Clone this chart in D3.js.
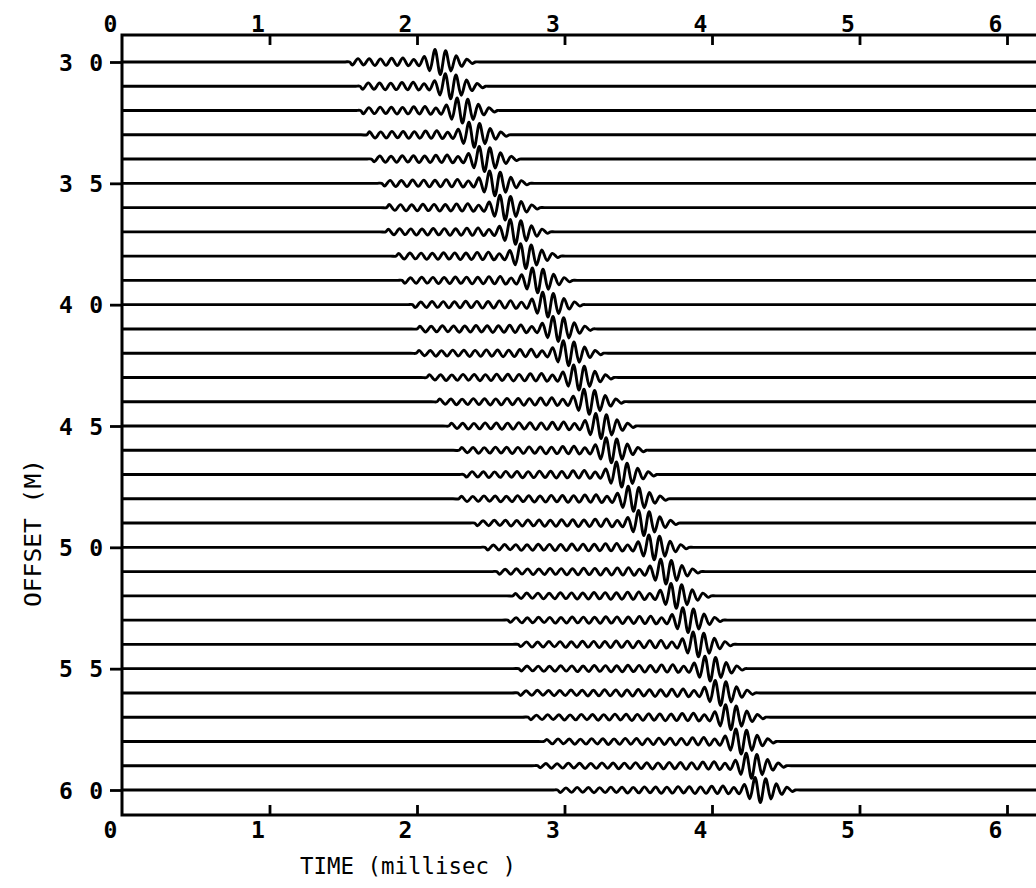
<!DOCTYPE html>
<html>
<head>
<meta charset="utf-8">
<script src="https://cdn.jsdelivr.net/npm/d3@7"></script>
<style>
  html, body { margin: 0; padding: 0; background: #fff; }
  svg { display: block; }
</style>
</head>
<body>
<svg id="chart" width="1036" height="888"></svg>
<script>
// ---- data ----
const offsets = [30,31,32,33,34,35,36,37,38,39,40,41,42,43,44,45,46,47,48,49,50,51,52,53,54,55,56,57,58,59,60];
// centre time (ms) of the main wavelet on each trace
const arrivalTimes = [2.14,2.21,2.29,2.37,2.44,2.51,2.58,2.65,2.72,2.80,2.87,2.94,3.01,3.08,3.15,3.23,3.30,3.37,3.45,3.52,3.59,3.67,3.74,3.82,3.89,3.97,4.04,4.11,4.18,4.25,4.31];
// time (ms) where the small precursor wiggles start on each trace
const precursorStart = [1.51,1.58,1.58,1.63,1.65,1.74,1.75,1.74,1.82,1.85,1.92,1.95,1.95,2.02,2.09,2.19,2.26,2.29,2.26,2.36,2.43,2.49,2.60,2.56,2.63,2.66,2.66,2.73,2.83,2.77,2.90];
// main wavelet: half-cycle extrema (normalised, + = up)
const wavelet = [0.2,-0.3,0.45,-0.7,1.0,-1.0,0.9,-0.72,0.5,-0.35,0.22,-0.12];
// precursor: half-cycle extrema (normalised), last values sit next to the main wavelet
const precursorAmps = [0.10,-0.12,0.14,-0.11,0.15,-0.16,0.13,-0.15,0.17,-0.14,0.16,-0.18,0.15,-0.17,0.19,-0.16,0.18,-0.20,0.17,-0.19,0.21,-0.18,0.20,-0.22,0.19,-0.21,0.23,-0.20,0.22,-0.24,0.21,-0.23,0.25,-0.22,0.24,-0.26,0.23,-0.25,0.27,-0.24,0.26,-0.28,0.25,-0.27,0.30,-0.28,0.32,-0.30];
const timeTicks = [0,1,2,3,4,5,6];
const offsetTicks = [30,35,40,45,50,55,60];
const xTitle = "TIME (millisec )";
const yTitle = "OFFSET (M)";

// ---- layout ----
const svg = d3.select("#chart");
const leftX = 122, topY = 35, bottomY = 815;
const x = d3.scaleLinear().domain([0, 6.6]).range([leftX, leftX + 147.5 * 6.6]);
const y = d3.scaleLinear().domain([30, 60]).range([62, 790]);
const amp = d3.scaleLinear().domain([-1, 1]).range([12.5, -12.5]);
const hMain = 0.036, hPre = 0.038;
const monoBold = "'DejaVu Sans Mono', 'Liberation Mono', monospace";

// traces
const line = d3.line().x(d => x(d[0])).y(d => d[1]).curve(d3.curveCatmullRom.alpha(0.5));
offsets.forEach((off, i) => {
  const y0 = y(off);
  const ta = arrivalTimes[i];
  const centre = (wavelet.length - 1) / 2 - 1;
  const wStart = ta - centre * hMain;
  const pts = [[0, 0]];
  const ps = precursorStart[i];
  const preEnd = wStart - hMain;
  const nPre = Math.max(0, Math.min(precursorAmps.length, Math.floor((preEnd - ps) / hPre)));
  const preVals = precursorAmps.slice(precursorAmps.length - nPre);
  const p0 = preEnd - (nPre - 1) * hPre;
  pts.push([p0 - hPre - 0.02, 0]);
  pts.push([p0 - hPre * 0.5, 0]);
  preVals.forEach((a, k) => pts.push([p0 + k * hPre, amp(a) - amp(0)]));
  wavelet.forEach((a, k) => pts.push([wStart + k * hMain, amp(a) - amp(0)]));
  const wEnd = wStart + (wavelet.length - 1) * hMain;
  pts.push([wEnd + hMain * 0.6, 0]);
  pts.push([wEnd + hMain * 0.6 + 0.03, 0]);
  pts.push([6.6, 0]);
  svg.append("path")
    .attr("d", line(pts.map(p => [p[0], y0 + p[1]])))
    .attr("fill", "none")
    .attr("stroke", "#000")
    .attr("stroke-width", 2.9)
    .attr("stroke-linejoin", "round");
});

// frame
svg.append("path")
  .attr("d", `M${x(6.6)},${topY}H${leftX}V${bottomY}H${x(6.6)}`)
  .attr("fill", "none").attr("stroke", "#000").attr("stroke-width", 3);

// top axis
const gTop = svg.append("g").attr("transform", `translate(0,${topY})`)
  .call(d3.axisTop(x).tickValues(timeTicks).tickFormat(d3.format("d")).tickSize(-10).tickPadding(3));
// bottom axis
const gBot = svg.append("g").attr("transform", `translate(0,${bottomY})`)
  .call(d3.axisBottom(x).tickValues(timeTicks).tickFormat(d3.format("d")).tickSize(-10).tickPadding(7));
// left axis
const gLeft = svg.append("g").attr("transform", `translate(${leftX},0)`)
  .call(d3.axisLeft(y).tickValues(offsetTicks).tickFormat(d => String(d).split("").join(" ")).tickSize(12).tickPadding(7));

[gTop, gBot, gLeft].forEach(g => {
  g.select(".domain").remove();
  g.selectAll(".tick line").attr("stroke", "#000").attr("stroke-width", 2.8);
  g.selectAll(".tick text").attr("fill", "#000")
    .attr("font-family", monoBold).attr("font-weight", "bold").attr("font-size", 23);
});
gTop.selectAll(".tick text").attr("dx", -12);
gBot.selectAll(".tick text").attr("dx", -12);
gTop.selectAll(".tick").filter(d => d === 0).select("line").remove();
gBot.selectAll(".tick").filter(d => d === 0).select("line").remove();
gLeft.selectAll(".tick text").attr("dy", "0.36em").attr("textLength", 44).attr("lengthAdjust", "spacing");

// titles
svg.append("text")
  .attr("x", 300).attr("y", 874)
  .attr("font-family", "'DejaVu Sans Mono', monospace").attr("font-size", 23)
  .attr("textLength", 216).attr("lengthAdjust", "spacingAndGlyphs")
  .text(xTitle);
svg.append("text")
  .attr("transform", "translate(41,607) rotate(-90)")
  .attr("font-family", "'DejaVu Sans Mono', monospace").attr("font-size", 23)
  .attr("textLength", 148).attr("lengthAdjust", "spacingAndGlyphs")
  .text(yTitle);
</script>
</body>
</html>
